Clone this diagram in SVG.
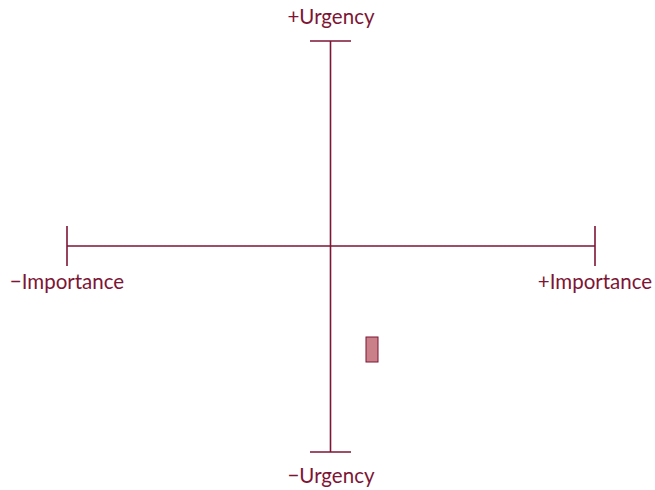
<svg xmlns="http://www.w3.org/2000/svg" width="655" height="490" viewBox="0 0 655 490">
<style>
.ax{stroke:#7d1535;stroke-width:1.6;fill:none}
.lbl{font-family:Lato,"Open Sans",sans-serif;font-size:20.5px;fill:#7d1535;text-anchor:middle}
</style>
<rect width="655" height="490" fill="#fff"/>
<g id="axes">
<line class="ax" x1="330.5" y1="41" x2="330.5" y2="452"/>
<line class="ax" x1="310" y1="41" x2="351" y2="41"/>
<line class="ax" x1="310" y1="452" x2="351" y2="452"/>
<line class="ax" x1="67" y1="246" x2="595" y2="246"/>
<line class="ax" x1="67" y1="226" x2="67" y2="266"/>
<line class="ax" x1="595" y1="226" x2="595" y2="266"/>
</g>
<g id="labels">
<text class="lbl" x="331" y="24">+Urgency</text>
<text class="lbl" x="331" y="483">−Urgency</text>
<text class="lbl" x="67" y="289">−Importance</text>
<text class="lbl" x="595" y="289">+Importance</text>
</g>
<g id="point">
<rect x="366" y="337" width="12" height="25" fill="#c98088" stroke="#7d1535" stroke-width="1"/>
</g>
</svg>
